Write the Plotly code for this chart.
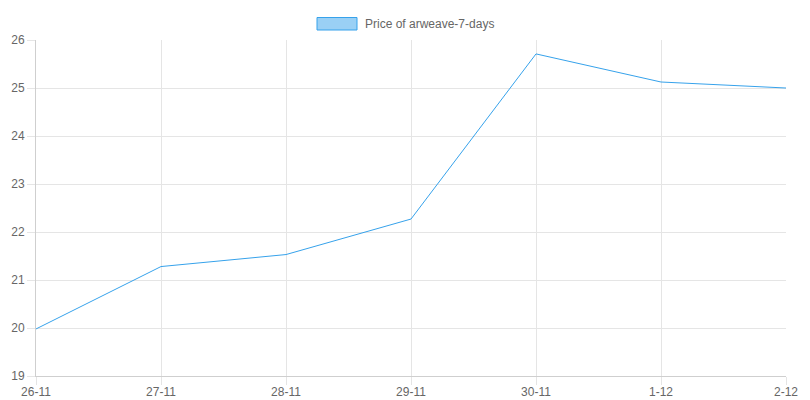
import plotly.graph_objects as go

dates = ["26-11", "27-11", "28-11", "29-11", "30-11", "1-12", "2-12"]
prices = [19.98, 21.28, 21.53, 22.27, 25.71, 25.125, 25.0]
series_name = "Price of arweave-7-days"
y_ticks = [19, 20, 21, 22, 23, 24, 25, 26]

LINE = "#36a2eb"
GRID = "#e5e5e5"
AXIS = "#cfcfcf"
TXT = "#666666"
FONT = "Liberation Sans, Arial, Helvetica, sans-serif"

fig = go.Figure()
fig.add_trace(go.Scatter(
    x=dates, y=prices, mode="lines", name=series_name,
    line=dict(color=LINE, width=1), showlegend=False, hoverinfo="x+y",
))

fig.update_layout(
    width=810, height=400,
    margin=dict(l=36, r=24, t=40, b=24, pad=0),
    paper_bgcolor="white", plot_bgcolor="white",
    font=dict(family=FONT, size=12, color=TXT),
    xaxis=dict(
        type="category", range=[0, len(dates) - 1],
        showgrid=True, gridcolor=GRID, gridwidth=1,
        showline=True, linecolor=AXIS, linewidth=1,
        ticks="outside", ticklen=8, tickcolor=GRID,
        ticklabelstandoff=-3,
        tickfont=dict(family=FONT, size=12, color=TXT),
        zeroline=False, fixedrange=True, automargin=False,
    ),
    yaxis=dict(
        range=[19, 26], tickvals=y_ticks,
        showgrid=True, gridcolor=GRID, gridwidth=1,
        showline=True, linecolor=AXIS, linewidth=1,
        ticks="outside", ticklen=8, tickcolor=GRID,
        tickfont=dict(family=FONT, size=12, color=TXT),
        zeroline=False, fixedrange=True, automargin=False,
    ),
)

# Chart.js-style legend: box + label
fig.add_shape(type="rect", xref="paper", yref="paper",
              x0=(317 - 36) / 750, x1=(357 - 36) / 750,
              y0=(376 - 30) / 336, y1=(376 - 17.5) / 336,
              fillcolor="rgba(54,162,235,0.5)", line=dict(color=LINE, width=1))
fig.add_annotation(xref="paper", yref="paper",
                   x=(363 - 36) / 750, y=(376 - 23.5) / 336,
                   xanchor="left", yanchor="middle", showarrow=False,
                   text=series_name, font=dict(family=FONT, size=12, color=TXT))

fig.write_html("out.html", config={"displayModeBar": False},
               post_script="document.body.style.margin='0';document.body.style.overflow='hidden';")
